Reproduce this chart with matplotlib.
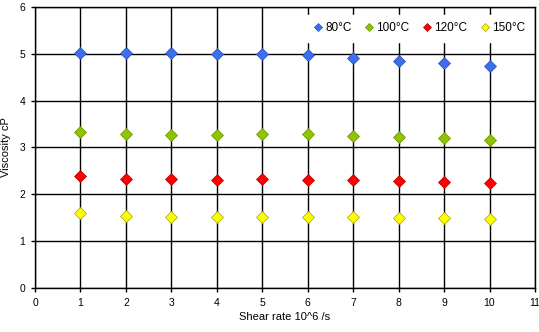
import matplotlib
matplotlib.use("Agg")
import matplotlib.pyplot as plt

plt.rcParams['font.family'] = ['Liberation Sans', 'DejaVu Sans']

shear = [1, 2, 3, 4, 5, 6, 7, 8, 9, 10]
v80 = [5.01, 5.01, 5.01, 4.99, 5.00, 4.97, 4.91, 4.85, 4.81, 4.73]
v100 = [3.33, 3.28, 3.26, 3.27, 3.28, 3.28, 3.25, 3.23, 3.20, 3.17]
v120 = [2.385, 2.33, 2.32, 2.31, 2.32, 2.31, 2.30, 2.28, 2.27, 2.25]
v150 = [1.60, 1.535, 1.51, 1.51, 1.51, 1.51, 1.51, 1.49, 1.49, 1.48]
labels = ['80°C', '100°C', '120°C', '150°C']
colors = ['#3c6ff0', '#8fc400', '#ff0000', '#ffff00']
edges = ['#2a4fb0', '#6a9000', '#b00000', '#a0a000']

fig = plt.figure(figsize=(5.39, 3.32), dpi=100)
ax = fig.add_axes([0.065, 0.1325, 0.9275, 0.8465])

for vals, lab, c, ec in zip([v80, v100, v120, v150], labels, colors, edges):
    ax.plot(shear, vals, linestyle='none', marker='D', markersize=6,
            markerfacecolor=c, markeredgecolor=ec, markeredgewidth=0.5,
            label=lab, zorder=3)

ax.set_xlim(0, 11)
ax.set_ylim(0, 6)
ax.set_xticks(range(0, 12))
ax.set_yticks(range(0, 7))
ax.grid(True, color='black', linewidth=1.0)
ax.set_axisbelow(True)
for s in ax.spines.values():
    s.set_color('black')
    s.set_linewidth(1.0)
    s.set_zorder(5)
ax.tick_params(axis='both', labelsize=7.5, length=3, width=1, color='black', pad=4)
ax.set_xlabel('Shear rate 10^6 /s', fontsize=8, labelpad=3)
ax.set_ylabel('Viscosity cP', fontsize=8, labelpad=6)

leg = ax.legend(loc='upper right', bbox_to_anchor=(0.995, 0.97), ncol=4,
                fontsize=8.5, frameon=True,
                handletextpad=0.1, columnspacing=1.0, handlelength=1.0,
                markerscale=0.75, borderaxespad=0.0, fancybox=False,
                borderpad=0.6)
leg.get_frame().set_edgecolor('white')
leg.get_frame().set_facecolor('white')
leg.get_frame().set_alpha(1.0)

fig.savefig('out.png', dpi=100)
